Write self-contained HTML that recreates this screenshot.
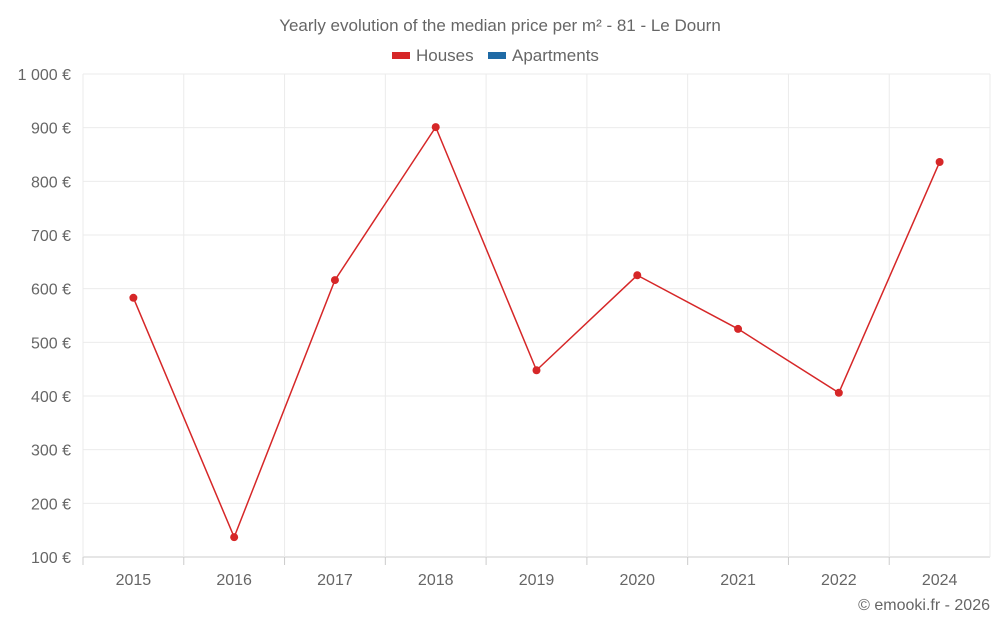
<!DOCTYPE html>
<html><head><meta charset="utf-8"><style>
body{margin:0;background:#fff;font-family:"Liberation Sans",sans-serif;}
svg text{font-family:"Liberation Sans",sans-serif;fill:#666;}
</style></head><body>
<svg id="chart" width="1000" height="625">
<text x="500" y="31" text-anchor="middle" font-size="17">Yearly evolution of the median price per m² - 81 - Le Dourn</text>
<g>
<g><rect x="392" y="52" width="18" height="7" fill="#d62728"></rect><text x="416" y="61" font-size="17">Houses</text></g>
<g><rect x="488" y="52" width="18" height="7" fill="#1f6aa5"></rect><text x="512" y="61" font-size="17">Apartments</text></g>
</g>
<g id="grid"></g>
<g id="axes"></g>
<g id="series"></g>
<text x="990" y="610" text-anchor="end" font-size="16">© emooki.fr - 2026</text>
</svg>
<script>
const categories=["2015","2016","2017","2018","2019","2020","2021","2022","2024"];
const houses=[583,137,616,901,448,625,525,406,836];
const yTicks=[100,200,300,400,500,600,700,800,900,1000];
const yTickLabels=["100 €","200 €","300 €","400 €","500 €","600 €","700 €","800 €","900 €","1 000 €"];
const X0=83,X1=990,Y0=557,Y1=74,ymin=100,ymax=1000;
const ns="http://www.w3.org/2000/svg";
const bw=(X1-X0)/categories.length;
const x=i=>X0+bw*(i+0.5);
const y=v=>Y0-(v-ymin)/(ymax-ymin)*(Y0-Y1);
function mk(t,a,p){const e=document.createElementNS(ns,t);for(const k in a)e.setAttribute(k,a[k]);p.appendChild(e);return e;}
const grid=document.getElementById('grid'),axes=document.getElementById('axes'),ser=document.getElementById('series');
yTicks.forEach((v,i)=>{
 const l=mk('line',{x1:X0,x2:X1,y1:y(v),y2:y(v),stroke:i==0?'#ccc':'#ebebeb','stroke-width':1},grid);
 
 
 const t=mk('text',{x:71,y:y(v)+6,'text-anchor':'end','font-size':16},axes);
 t.textContent=yTickLabels[i];
 
 
});
for(let i=0;i<=categories.length;i++){
 const gx=X0+bw*i;
 const l=mk('line',{x1:gx,x2:gx,y1:Y1,y2:Y0,stroke:'#ebebeb','stroke-width':1},grid);
 
 
}
categories.forEach((c,i)=>{
 const tk=mk('line',{x1:X0+bw*i,x2:X0+bw*i,y1:Y0,y2:Y0+8,stroke:'#ccc'},axes);
 
 
 const t=mk('text',{x:x(i),y:585,'text-anchor':'middle','font-size':16},axes);
 t.textContent=c;
 
 
});
const pl=mk('polyline',{points:houses.map((v,i)=>x(i)+','+y(v)).join(' '),fill:'none',stroke:'#d62728','stroke-width':1.5},ser);


houses.forEach((v,i)=>{
 const c=mk('circle',{cx:x(i),cy:y(v),r:4,fill:'#d62728'},ser);
 
 
});
</script>
</body></html>
